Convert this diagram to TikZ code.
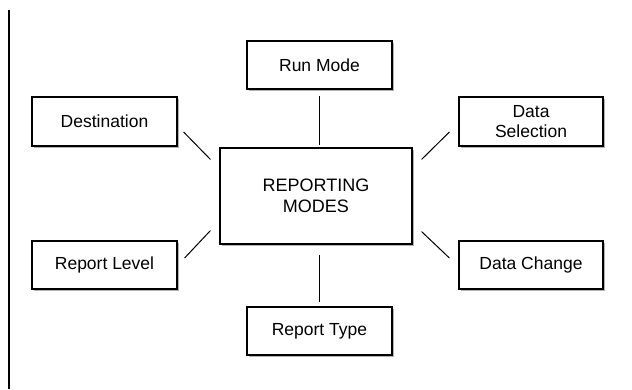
\documentclass[tikz,border=0pt]{standalone}
\usepackage{fontspec}
\setmainfont{Liberation Sans}
\usetikzlibrary{shadows}
\begin{document}
\begin{tikzpicture}[x=1pt,y=-1pt,
  modebox/.style={draw=black, line width=1.2pt, fill=white, rectangle, inner sep=0pt,
    minimum width=145pt, minimum height=48pt, align=center,
    font=\fontsize{17.5}{20}\selectfont,
    drop shadow={shadow xshift=2pt, shadow yshift=-2pt, fill=black!30, opacity=1}},
  mainbox/.style={modebox, minimum width=192pt, minimum height=96pt,
    font=\fontsize{18}{21.5}\selectfont},
  link/.style={draw=black, line width=1pt}]
\useasboundingbox (0,0) rectangle (632,389);
\fill[white] (0,0) rectangle (632,389);
\draw[line width=1.2pt] (9,10) -- (9,389);
\node[mainbox] (center) at (316,196) {REPORTING\\MODES};
\node[modebox] (runmode) at (319.5,65) {Run Mode};
\node[modebox, minimum height=49pt] (dest) at (104.5,121.5) {Destination};
\node[modebox, minimum height=49pt, minimum width=144pt] (datasel) at (531,121.5) {Data\\Selection};
\node[modebox] (replevel) at (104.5,265) {Report Level};
\node[modebox, minimum width=144pt] (datachange) at (531,265) {Data Change};
\node[modebox] (reptype) at (319.5,331) {Report Type};
\draw[link] ([shift={(0,6)}]runmode.south) -- ([shift={(0,-2)}]runmode.south |- center.north);
\draw[link] ([shift={(0,-4)}]reptype.north) -- ([shift={(0,10)}]reptype.north |- center.south);
\draw[link] ([shift={(6,10.5)}]dest.east) -- ([shift={(-9,12)}]center.north west);
\draw[link] ([shift={(-9,10.5)}]datasel.west) -- ([shift={(9,12)}]center.north east);
\draw[link] ([shift={(7,-7)}]replevel.east) -- ([shift={(-9,-14)}]center.south west);
\draw[link] ([shift={(-9,-7)}]datachange.west) -- ([shift={(9,-13)}]center.south east);
\end{tikzpicture}
\end{document}
